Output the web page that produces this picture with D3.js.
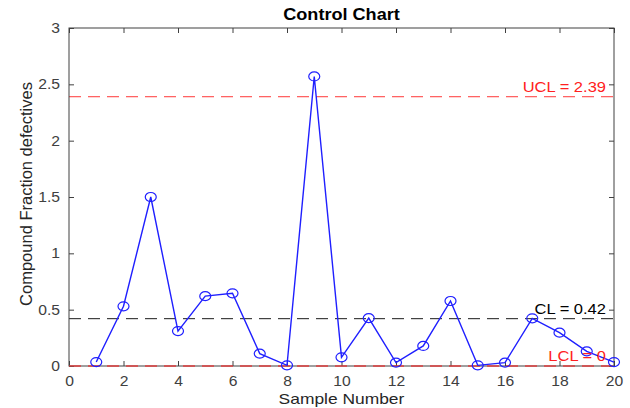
<!DOCTYPE html>
<html>
<head>
<meta charset="utf-8">
<script src="https://cdn.jsdelivr.net/npm/d3@7"></script>
<style>
  body { margin: 0; background: #fff; }
  text { font-family: "Liberation Sans", Arial, sans-serif; }
</style>
</head>
<body>
<svg id="chart"></svg>
<script>
const samples = d3.range(1, 21);
const fractions = [0.035, 0.53, 1.5, 0.31, 0.62, 0.645, 0.11, 0.006, 2.57, 0.077,
                   0.425, 0.03, 0.178, 0.577, 0.006, 0.03, 0.423, 0.296, 0.13, 0.035];
const limits = [
  { name: "UCL", value: 2.39, color: "#ff2020" },
  { name: "CL", value: 0.42, color: "#000" },
  { name: "LCL", value: 0, color: "#ff2020" }
];
const xTicks = [0, 2, 4, 6, 8, 10, 12, 14, 16, 18, 20];
const yTicks = [0, 0.5, 1, 1.5, 2, 2.5, 3];

const svgWidth = 630, svgHeight = 408;
const margin = { top: 28, right: 16, bottom: 42, left: 69 };
const width = svgWidth - margin.left - margin.right;
const height = svgHeight - margin.top - margin.bottom;
const axisColor = "#404040";

const svg = d3.select("#chart")
  .attr("width", svgWidth)
  .attr("height", svgHeight)
  .append("g")
  .attr("transform", `translate(${margin.left},${margin.top})`);

const xScale = d3.scaleLinear().domain([0, 20]).range([0, width]);
const yScale = d3.scaleLinear().domain([0, 3]).range([height, 0]);

// the reference text is a bit wider than the font, stretch it
function stretch(sel, k) {
  sel.each(function() {
    const len = this.getComputedTextLength();
    d3.select(this).attr("textLength", len * k).attr("lengthAdjust", "spacingAndGlyphs");
  });
}

// limit lines
svg.selectAll(".limit")
  .data(limits)
  .enter()
  .append("line")
  .attr("class", "limit")
  .attr("x1", 0)
  .attr("x2", width)
  .attr("y1", d => yScale(d.value))
  .attr("y2", d => yScale(d.value))
  .attr("stroke", d => d.color)
  .attr("stroke-width", 0.9)
  .attr("stroke-dasharray", "12,7");

// axes: bottom/left with labels, top/right mirror ticks only
function styleAxis(g) {
  g.select(".domain").remove();
  g.selectAll(".tick line").attr("stroke", axisColor);
  g.selectAll(".tick text")
    .attr("fill", axisColor)
    .style("font-size", "14px")
    .call(stretch, 1.12);
}

svg.append("g")
  .attr("transform", `translate(0,${height})`)
  .call(d3.axisBottom(xScale).tickValues(xTicks).tickSize(-5).tickPadding(10).tickFormat(d3.format("d")))
  .call(styleAxis);

svg.append("g")
  .call(d3.axisTop(xScale).tickValues(xTicks).tickSize(-5).tickFormat(""))
  .call(styleAxis);

svg.append("g")
  .call(d3.axisLeft(yScale).tickValues(yTicks).tickSize(-5).tickPadding(9).tickFormat(d3.format("")))
  .call(styleAxis);

svg.append("g")
  .attr("transform", `translate(${width},0)`)
  .call(d3.axisRight(yScale).tickValues(yTicks).tickSize(-5).tickFormat(""))
  .call(styleAxis);

svg.append("rect")
  .attr("width", width)
  .attr("height", height)
  .attr("fill", "none")
  .attr("stroke", axisColor)
  .attr("stroke-width", 1);

// redraw LCL on top of the frame so the dashes show over the axis
svg.append("line")
  .attr("x1", 0)
  .attr("x2", width)
  .attr("y1", yScale(0))
  .attr("y2", yScale(0))
  .attr("stroke", "#ff4040")
  .attr("stroke-width", 1)
  .attr("stroke-dasharray", "12,7");

// data line
const points = samples.map((s, i) => ({ s, v: fractions[i] }));

svg.append("path")
  .datum(points)
  .attr("fill", "none")
  .attr("stroke", "#1f1fff")
  .attr("stroke-width", 1.4)
  .attr("d", d3.line().x(d => xScale(d.s)).y(d => yScale(d.v)));

svg.selectAll(".pt")
  .data(points)
  .enter()
  .append("ellipse")
  .attr("class", "pt")
  .attr("cx", d => xScale(d.s))
  .attr("cy", d => yScale(d.v))
  .attr("rx", 5.5)
  .attr("ry", 4.5)
  .attr("fill", "none")
  .attr("stroke", "#1f1fff")
  .attr("stroke-width", 1.2);

// limit labels
svg.selectAll(".limit-label")
  .data(limits)
  .enter()
  .append("text")
  .attr("class", "limit-label")
  .attr("x", width - 8)
  .attr("y", d => yScale(d.value) - 5)
  .attr("text-anchor", "end")
  .attr("fill", d => d.color)
  .style("font-size", "15px")
  .text(d => `${d.name} = ${d.value}`)
  .call(stretch, 1.1);

// title and axis labels
svg.append("text")
  .attr("x", width / 2)
  .attr("y", -8)
  .attr("text-anchor", "middle")
  .attr("fill", "#000")
  .style("font-size", "16px")
  .style("font-weight", "bold")
  .text("Control Chart")
  .call(stretch, 1.13);

svg.append("text")
  .attr("x", width / 2)
  .attr("y", height + 38)
  .attr("text-anchor", "middle")
  .attr("fill", "#262626")
  .style("font-size", "15px")
  .text("Sample Number")
  .call(stretch, 1.16);

svg.append("text")
  .attr("transform", "rotate(-90)")
  .attr("x", -height / 2 + 3)
  .attr("y", -margin.left + 32)
  .attr("text-anchor", "middle")
  .attr("fill", "#262626")
  .style("font-size", "16.5px")
  .text("Compound Fraction defectives");
</script>
</body>
</html>
